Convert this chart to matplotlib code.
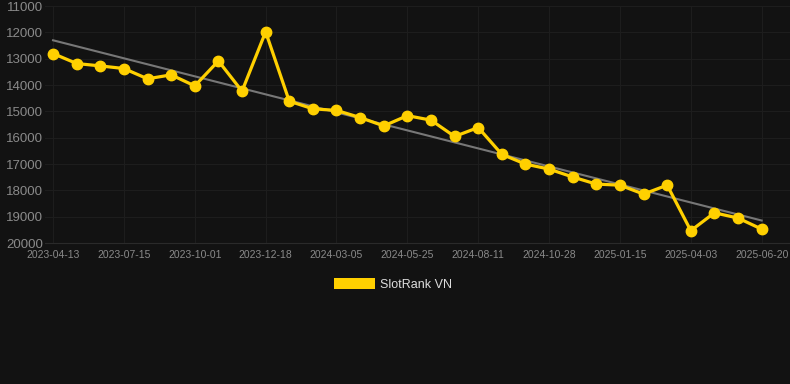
import numpy as np
import matplotlib.pyplot as plt
from matplotlib.patches import Patch

plt.rcParams['font.family'] = ['Liberation Sans', 'DejaVu Sans']

# 31 points, labels shown every third one
dates = ['2023-04-13', '2023-05-14', '2023-06-14', '2023-07-15', '2023-08-10', '2023-09-05',
         '2023-10-01', '2023-10-27', '2023-11-22', '2023-12-18', '2024-01-13', '2024-02-08',
         '2024-03-05', '2024-04-01', '2024-04-28', '2024-05-25', '2024-06-20', '2024-07-16',
         '2024-08-11', '2024-09-06', '2024-10-02', '2024-10-28', '2024-11-23', '2024-12-19',
         '2025-01-15', '2025-02-10', '2025-03-08', '2025-04-03', '2025-04-29', '2025-05-25',
         '2025-06-20']
rank = [12800, 13180, 13270, 13370, 13760, 13610, 14030, 13080, 14230, 11975, 14610,
        14900, 14960, 15230, 15550, 15160, 15330, 15950, 15610, 16630, 17000,
        17190, 17490, 17760, 17800, 18140, 17800, 19530, 18850, 19050, 19470]
yticks = [11000, 12000, 13000, 14000, 15000, 16000, 17000, 18000, 19000, 20000]

bg = '#121212'
yellow = '#FFD000'

fig = plt.figure(figsize=(7.9, 3.84), dpi=100, facecolor=bg)
ax = fig.add_axes([0.057, 0.367, 0.943, 0.617], facecolor=bg)

x = np.arange(len(dates))
coef = np.polyfit(x, rank, 1)
ax.plot(x, np.polyval(coef, x), color='#777777', lw=1.5, zorder=2)
ax.plot(x, rank, color=yellow, lw=2.3, marker='o', markersize=7.5, zorder=3)

ax.set_ylim(20000, 11000)
ax.set_yticks(yticks)
ax.set_xlim(-0.34, 31.2)
ax.set_xticks(x[::3])
ax.set_xticklabels(dates[::3])

ax.grid(True, color='#1d1d1d', lw=0.8)
ax.set_axisbelow(True)
for s in ['top', 'right', 'left']:
    ax.spines[s].set_visible(False)
ax.spines['bottom'].set_color('#2a2a2a')
ax.tick_params(axis='y', length=0, pad=1.5, labelsize=9.5, labelcolor='#8a8a8a')
ax.tick_params(axis='x', length=0, pad=5, labelsize=7.5, labelcolor='#8a8a8a')

fig.legend(handles=[Patch(facecolor=yellow, label='SlotRank VN')],
           loc='center', bbox_to_anchor=(0.497, 0.26), frameon=False,
           handlelength=3.3, handleheight=0.95, handletextpad=0.4,
           fontsize=9, labelcolor='#dddddd')

fig.savefig('out.png', dpi=100, facecolor=bg)
